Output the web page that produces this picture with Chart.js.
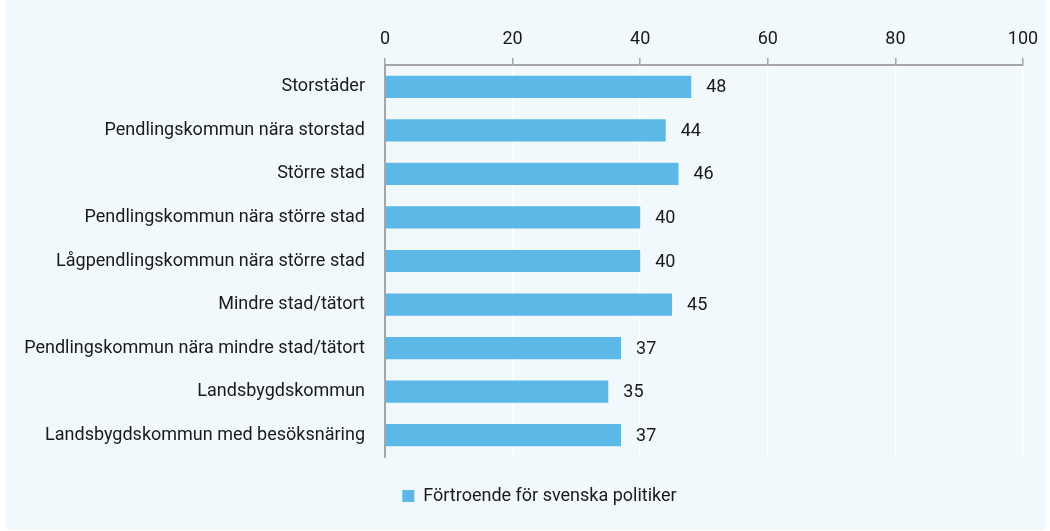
<!DOCTYPE html>
<html>
<head>
<meta charset="utf-8">
<script src="https://cdn.jsdelivr.net/npm/chart.js@4/dist/chart.umd.min.js"></script>
<style>
  html, body { margin: 0; padding: 0; background: #ffffff; }
  #wrap { position: relative; width: 1050px; height: 531px; }
</style>
</head>
<body>
<div id="wrap"><canvas id="chart" width="1050" height="531"></canvas></div>
<script>
// Data
const categories = [
  'Storstäder',
  'Pendlingskommun nära storstad',
  'Större stad',
  'Pendlingskommun nära större stad',
  'Lågpendlingskommun nära större stad',
  'Mindre stad/tätort',
  'Pendlingskommun nära mindre stad/tätort',
  'Landsbygdskommun',
  'Landsbygdskommun med besöksnäring'
];
const trustValues = [48, 44, 46, 40, 40, 45, 37, 35, 37];
const seriesName = 'Förtroende för svenska politiker';
const xTicks = [0, 20, 40, 60, 80, 100];

const barColor = '#5BB8E7';
const textColor = '#1a1a1a';
const axisGrey = '#A6A6A6';
const fontFamily = "Roboto, 'Noto Sans', sans-serif";

Chart.defaults.font.family = fontFamily;
Chart.defaults.font.size = 18;
Chart.defaults.color = textColor;

// panel background
const backgroundPlugin = {
  id: 'panelBg',
  beforeDraw(chart) {
    const c = chart.ctx;
    c.save();
    c.fillStyle = '#F2F9FD';
    c.fillRect(6, 0, 1039, 530);
    c.restore();
  }
};

// nudge the legend a bit right, like the original
const legendShift = {
  id: 'legendShift',
  afterLayout(chart) {
    chart.legend.left += 28;
    chart.legend.right += 28;
  }
};

// value labels at bar end
const valueLabels = {
  id: 'valueLabels',
  afterDatasetsDraw(chart) {
    const c = chart.ctx;
    const meta = chart.getDatasetMeta(0);
    c.save();
    c.font = '18px ' + fontFamily;
    c.fillStyle = textColor;
    c.textAlign = 'left';
    c.textBaseline = 'middle';
    meta.data.forEach((bar, i) => {
      c.fillText(trustValues[i], bar.x + 15, bar.y + 1);
    });
    c.restore();
  }
};

new Chart(document.getElementById('chart'), {
  type: 'bar',
  data: {
    labels: categories,
    datasets: [{
      label: seriesName,
      data: trustValues,
      backgroundColor: barColor,
      borderWidth: 0,
      categoryPercentage: 0.51,
      barPercentage: 1
    }]
  },
  options: {
    indexAxis: 'y',
    responsive: false,
    animation: false,
    layout: { padding: { left: 0, right: 27, top: 0, bottom: 16 } },
    plugins: {
      legend: {
        position: 'bottom',
        labels: {
          boxWidth: 12,
          boxHeight: 12,
          padding: 30,
          color: textColor,
          font: { size: 18 }
        }
      },
      tooltip: { enabled: false }
    },
    scales: {
      x: {
        position: 'top',
        min: 0,
        max: 100,
        afterFit: s => { s.height = 65; },
        afterBuildTicks: s => { s.ticks = xTicks.map(v => ({ value: v })); },
        grid: {
          color: '#ffffff',
          lineWidth: 1.5,
          tickColor: axisGrey,
          tickLength: 7
        },
        border: { color: axisGrey, width: 2 },
        ticks: { padding: 8, color: textColor, font: { size: 18 } }
      },
      y: {
        afterFit: s => { s.width = 385; },
        grid: { display: false },
        border: { color: axisGrey, width: 2 },
        ticks: { padding: 12, color: textColor, font: { size: 18 } }
      }
    }
  },
  plugins: [backgroundPlugin, legendShift, valueLabels]
});
</script>
</body>
</html>
